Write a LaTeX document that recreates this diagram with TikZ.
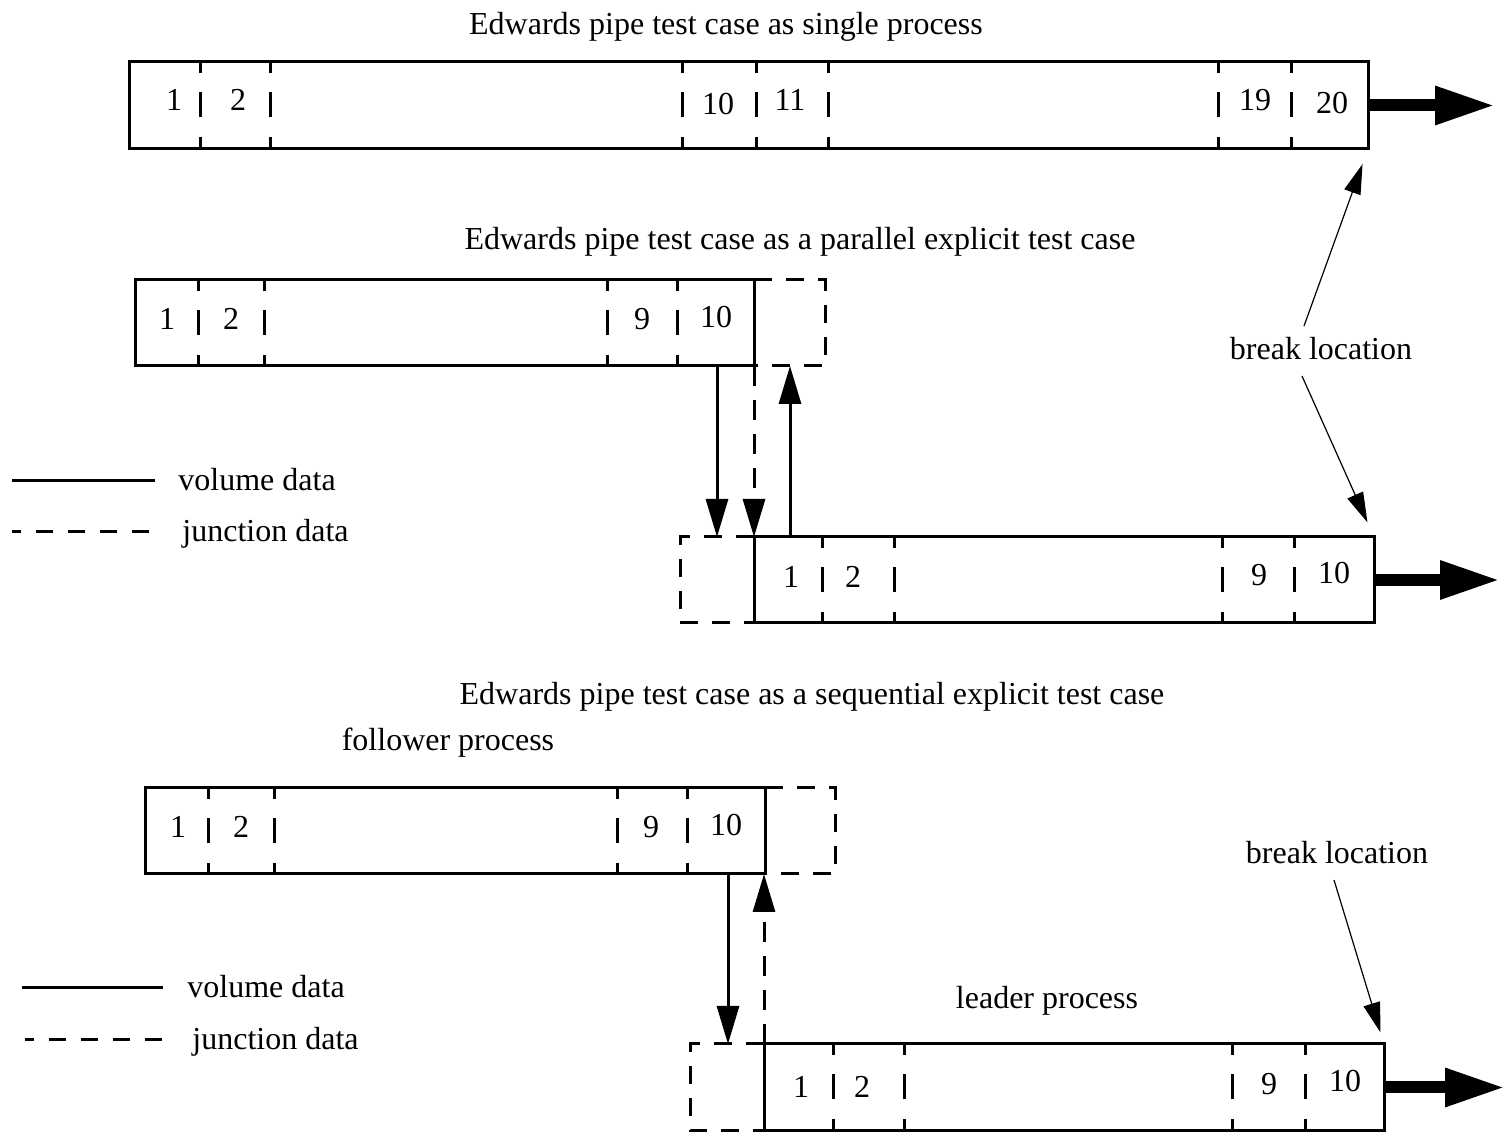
\documentclass[tikz,border=0pt]{standalone}
\usepackage{fontspec}
\setmainfont{Liberation Serif}
\usetikzlibrary{arrows.meta,fit}
\begin{document}
\begin{tikzpicture}[x=0.5pt,y=-0.5pt,
  pipe/.style={draw, line width=1.5pt, inner sep=0pt, outer sep=0pt},
  divider/.style={line width=1.5pt, dash pattern=on 5.5pt off 9.5pt on 12.5pt off 10pt on 6pt},
  jdash/.style={line width=1.5pt, dash pattern=on 9pt off 7pt},
  vol/.style={line width=1.5pt, -{Triangle[length=19pt,width=11pt]}},
  jarrow/.style={vol, dash pattern=on 10pt off 7pt},
  bigarrow/.style={line width=6pt, -{Triangle[length=30pt,width=18pt]}},
  thinarrow/.style={line width=0.6pt, -{Triangle[length=15pt,width=8.5pt]}},
  lbl/.style={font=\fontsize{16}{19}\selectfont, inner sep=0pt, text height=11pt, text depth=3pt}
]
\useasboundingbox (0,0) rectangle (1512,1143);

% ---------- section 1 ----------
\node[lbl] (t1) at (726,27) {Edwards pipe test case as single process};
\node[pipe, fit={(129,62)(1368,149)}] (p1) {};
\foreach \x in {200,270,682,756,828,1218,1291}
  \draw[divider] (\x,62) -- (\x,149);
\node[lbl] (n11) at (174,103) {1};
\node[lbl] (n12) at (238,103) {2};
\node[lbl] (n13) at (718,107) {10};
\node[lbl] (n14) at (790,103) {11};
\node[lbl] (n15) at (1255,103) {19};
\node[lbl] (n16) at (1332,106) {20};
\coordinate (e1) at (1495,105.5);
\draw[bigarrow] (p1.east) -- (e1);

% ---------- section 2 ----------
\node[lbl] (t2) at (800,242) {Edwards pipe test case as a parallel explicit test case};
\node[pipe, fit={(135,280)(754,366)}] (p2) {};
\foreach \x in {198,264,607,677}
  \draw[divider] (\x,280) -- (\x,366);
\node[lbl] (n21) at (167,322) {1};
\node[lbl] (n22) at (231,322) {2};
\node[lbl] (n23) at (642,322) {9};
\node[lbl] (n24) at (716,320) {10};
\draw[jdash] (p2.north east) -- (825,280) -- (825,366) -- (p2.south east);

\node[pipe, fit={(754,537)(1374,623)}] (p3) {};
\foreach \x in {822,894,1222,1294}
  \draw[divider] (\x,537) -- (\x,623);
\node[lbl] (n31) at (791,580) {1};
\node[lbl] (n32) at (853,580) {2};
\node[lbl] (n33) at (1259,578) {9};
\node[lbl] (n34) at (1334,576) {10};
\draw[jdash] (p3.north west) -- (680,537) -- (680,623) -- (p3.south west);
\coordinate (e3) at (1500,580);
\draw[bigarrow] (p3.east) -- (e3);

\coordinate (v1) at (717,0);
\coordinate (v3) at (790,0);
\draw[vol] (p2.south -| v1) -- (p3.north -| v1);
\draw[jarrow] (p2.south east) -- (p3.north west);
\draw[vol] (p3.north -| v3) -- (p2.south -| v3);

\node[lbl] (bl1) at (1321,352) {break location};
\coordinate (b1s) at (1304,326);
\coordinate (b1e) at (1302,376);
\draw[thinarrow, shorten >=8pt] (b1s) -- (p1.south east);
\draw[thinarrow, shorten >=8pt] (b1e) -- (p3.north east);

\draw[line width=1.5pt] (12,481) -- (155,481);
\draw[line width=1.5pt, dash pattern=on 8.5pt off 7.5pt, dash phase=4pt] (12,532) -- (155,532);
\node[lbl, anchor=west] (lg1) at (178,483) {volume data};
\node[lbl, anchor=west] (lg2) at (182,534) {junction data};

% ---------- section 3 ----------
\node[lbl] (t3) at (812,697) {Edwards pipe test case as a sequential explicit test case};
\node[lbl] (fp) at (448,743) {follower process};
\node[pipe, fit={(145,788)(765,874)}] (p4) {};
\foreach \x in {208,274,617,687}
  \draw[divider] (\x,788) -- (\x,874);
\node[lbl] (n41) at (178,830) {1};
\node[lbl] (n42) at (241,830) {2};
\node[lbl] (n43) at (651,830) {9};
\node[lbl] (n44) at (726,828) {10};
\draw[jdash] (p4.north east) -- (835,788) -- (835,874) -- (p4.south east);

\node[lbl] (lp) at (1047,1001) {leader process};
\node[pipe, fit={(764,1044)(1384,1131)}] (p5) {};
\foreach \x in {833,904,1232,1305}
  \draw[divider] (\x,1044) -- (\x,1131);
\node[lbl] (n51) at (801,1090) {1};
\node[lbl] (n52) at (862,1090) {2};
\node[lbl] (n53) at (1269,1087) {9};
\node[lbl] (n54) at (1345,1084) {10};
\draw[jdash] (p5.north west) -- (690,1044) -- (690,1131) -- (p5.south west);
\coordinate (e5) at (1505,1087.5);
\draw[bigarrow] (p5.east) -- (e5);

\coordinate (v4) at (728,0);
\draw[vol] (p4.south -| v4) -- (p5.north -| v4);
\draw[jarrow] (p5.north west) -- (p5.north west |- p4.south);

\node[lbl] (bl2) at (1337,856) {break location};
\coordinate (b2s) at (1334,880);
\draw[thinarrow, shorten >=6pt] (b2s) -- (p5.north east);

\draw[line width=1.5pt] (22,988) -- (163,988);
\draw[line width=1.5pt, dash pattern=on 8.5pt off 7.5pt, dash phase=4pt] (25,1040) -- (163,1040);
\node[lbl, anchor=west] (lg3) at (187,990) {volume data};
\node[lbl, anchor=west] (lg4) at (192,1042) {junction data};
\end{tikzpicture}
\end{document}
